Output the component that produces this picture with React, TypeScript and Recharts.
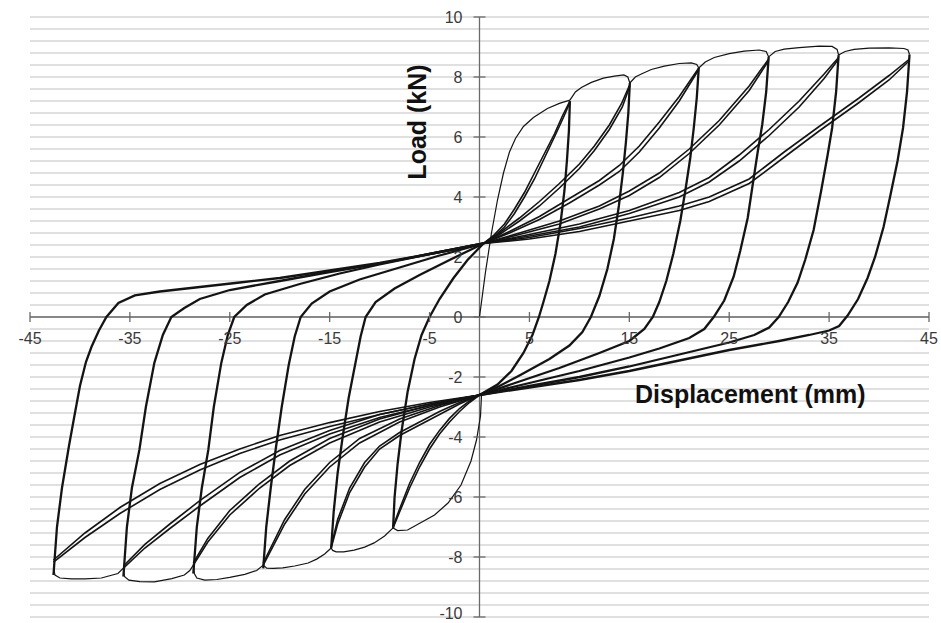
import React from 'react';
import { LineChart, Line, XAxis, YAxis, CartesianGrid, ReferenceLine, ReferenceDot } from 'recharts';

type P = [number, number];

const xTicks = [-45, -35, -25, -15, -5, 5, 15, 25, 35, 45];
const yTicks = [-10, -8, -6, -4, -2, 0, 2, 4, 6, 8, 10];
const gridValues: number[] = Array.from({ length: 51 }, (_, i) => Math.round((-10 + i * 0.4) * 10) / 10);

// Initial (virgin) curves and first-cycle envelope caps
const virginPos: P[] = [[0, 0], [0.6, 1.5], [1.2, 2.8], [1.8, 3.9], [2.4, 4.8], [3.0, 5.5], [3.6, 5.95], [4.4, 6.35], [5.4, 6.65], [6.8, 6.95], [8.0, 7.12], [9.05, 7.23]];
const capPos2: P[] = [[9.05, 7.23], [9.6, 7.5], [10.2, 7.65], [11.2, 7.82], [12.4, 7.96], [13.5, 8.03], [14.45, 8.07], [14.85, 8.0], [15.05, 7.8]];
const capPos3: P[] = [[15.05, 7.8], [15.6, 8.0], [16.2, 8.1], [17.2, 8.25], [18.5, 8.36], [20, 8.45], [21.2, 8.47], [21.75, 8.42], [21.95, 8.3]];
const capPos4: P[] = [[21.95, 8.3], [22.6, 8.5], [23.5, 8.65], [25, 8.78], [26.5, 8.86], [28, 8.9], [28.7, 8.85], [28.95, 8.67]];
const capPos5: P[] = [[28.95, 8.67], [29.6, 8.85], [30.5, 8.93], [32, 8.98], [34, 9.03], [35.3, 9.02], [35.8, 8.92], [35.95, 8.73]];
const capPos6: P[] = [[35.95, 8.73], [36.6, 8.85], [37.5, 8.92], [39, 8.96], [41, 8.97], [42.5, 8.95], [42.9, 8.9], [43.05, 8.75]];

const virginNeg: P[] = [[0.2, -2.6], [0.1, -3.3], [-0.3, -4.1], [-0.85, -4.8], [-1.85, -5.6], [-3.15, -6.2], [-4.5, -6.6], [-5.85, -6.85], [-7.2, -7.1], [-8.2, -7.12], [-8.65, -7.03]];
const capNeg2: P[] = [[-8.65, -7.03], [-9.5, -7.3], [-10.55, -7.53], [-11.5, -7.67], [-12.55, -7.77], [-13.6, -7.83], [-14.35, -7.83], [-14.7, -7.78], [-14.85, -7.7]];
const capNeg3: P[] = [[-14.85, -7.7], [-15.5, -7.9], [-16.3, -8.07], [-17.15, -8.2], [-18.5, -8.3], [-19.7, -8.36], [-20.65, -8.38], [-21.3, -8.37], [-21.65, -8.27]];
const capNeg4: P[] = [[-21.65, -8.27], [-22.3, -8.45], [-23.5, -8.58], [-25, -8.68], [-26.3, -8.75], [-27.5, -8.77], [-28.3, -8.7], [-28.55, -8.55], [-28.65, -8.27]];
const capNeg5: P[] = [[-28.65, -8.27], [-29, -8.45], [-29.55, -8.6], [-30.8, -8.72], [-32.55, -8.83], [-34, -8.82], [-35.1, -8.77], [-35.55, -8.65], [-35.65, -8.4]];
const capNeg6: P[] = [[-35.65, -8.37], [-36.2, -8.55], [-37.85, -8.7], [-39.5, -8.73], [-40.85, -8.73], [-42.0, -8.7], [-42.5, -8.6], [-42.65, -8.35]];

// Positive reloading branches (two repeated cycles per amplitude)
const posLoad1A: P[] = [[0.4, 2.45], [1.5, 2.75], [2.5, 3.1], [3.5, 3.6], [4.5, 4.15], [5.5, 4.8], [6.5, 5.45], [7.5, 6.1], [8.3, 6.7], [9.05, 7.2]];
const posLoad1B: P[] = [[0.4, 2.45], [1.5, 2.7], [2.5, 3.0], [3.5, 3.45], [4.5, 4.0], [5.5, 4.6], [6.5, 5.3], [7.5, 6.0], [8.4, 6.65], [9.05, 7.15]];
const posLoad2A: P[] = [[0.4, 2.45], [2, 2.8], [4, 3.3], [6, 3.85], [8, 4.45], [10, 5.1], [11.5, 5.7], [13, 6.4], [14.2, 7.1], [15.05, 7.75]];
const posLoad2B: P[] = [[0.4, 2.45], [2, 2.75], [4, 3.2], [6, 3.7], [8, 4.3], [10, 4.95], [11.5, 5.55], [13, 6.25], [14.3, 7.0], [15.05, 7.7]];
const posLoad3A: P[] = [[0.4, 2.45], [3, 2.85], [6, 3.35], [9, 3.95], [12, 4.55], [14, 5.05], [16, 5.7], [18, 6.5], [20, 7.35], [21.95, 8.3]];
const posLoad3B: P[] = [[0.4, 2.45], [3, 2.8], [6, 3.25], [9, 3.8], [12, 4.4], [14, 4.85], [16, 5.5], [18, 6.3], [20, 7.2], [21.95, 8.25]];
const posLoad4A: P[] = [[0.4, 2.45], [4, 2.8], [8, 3.2], [12, 3.7], [15, 4.2], [18, 4.8], [21, 5.6], [24, 6.55], [27, 7.7], [28.95, 8.6]];
const posLoad4B: P[] = [[0.4, 2.45], [4, 2.75], [8, 3.1], [12, 3.6], [15, 4.05], [18, 4.65], [21, 5.45], [24, 6.4], [27, 7.55], [28.95, 8.55]];
const posLoad5A: P[] = [[0.4, 2.45], [5, 2.75], [10, 3.1], [15, 3.55], [20, 4.15], [23, 4.65], [26, 5.4], [29, 6.25], [32, 7.2], [34.5, 8.1], [35.95, 8.65]];
const posLoad5B: P[] = [[0.4, 2.45], [5, 2.7], [10, 3.0], [15, 3.45], [20, 4.0], [23, 4.5], [26, 5.2], [29, 6.05], [32, 7.0], [34.5, 7.95], [35.95, 8.6]];
const posLoad6A: P[] = [[0.4, 2.45], [5, 2.65], [10, 2.95], [15, 3.3], [20, 3.7], [23, 4.0], [27, 4.6], [30.5, 5.5], [34, 6.35], [38, 7.3], [41, 8.05], [43.05, 8.6]];
const posLoad6B: P[] = [[0.4, 2.45], [5, 2.6], [10, 2.85], [15, 3.2], [20, 3.55], [23, 3.85], [27, 4.45], [31, 5.45], [34, 6.2], [38, 7.15], [41, 7.9], [43.05, 8.55]];

// Unloading from positive peaks down to the lower pinch
const posUnload1: P[] = [[9.05, 7.2], [8.95, 6.2], [8.75, 5.2], [8.5, 4.2], [8.1, 3.1], [7.6, 2.1], [7.0, 1.2], [6.4, 0.5], [5.95, 0.0], [5.3, -0.6], [4.4, -1.2], [3.2, -1.8], [1.8, -2.25], [0, -2.6]];
const posUnload2: P[] = [[15.05, 7.8], [14.9, 6.8], [14.65, 5.8], [14.35, 4.8], [13.95, 3.7], [13.45, 2.6], [12.8, 1.6], [12.0, 0.7], [11.15, 0.0], [10.3, -0.5], [9, -0.95], [7, -1.4], [4, -1.95], [2, -2.3], [0, -2.6]];
const posUnload3: P[] = [[21.95, 8.3], [21.75, 7.3], [21.45, 6.3], [21.1, 5.3], [20.6, 4.2], [20.1, 3.2], [19.4, 2.1], [18.7, 1.2], [18.0, 0.5], [17.35, 0.0], [16.5, -0.4], [15, -0.8], [12, -1.2], [8, -1.7], [4, -2.15], [0, -2.6]];
const posUnload4: P[] = [[28.95, 8.67], [28.7, 7.5], [28.3, 6.4], [27.85, 5.5], [27.3, 4.3], [26.85, 3.3], [26.1, 2.2], [25.45, 1.35], [24.5, 0.55], [23.45, 0.0], [22.5, -0.4], [21, -0.7], [18, -1.05], [15, -1.35], [10, -1.8], [5, -2.2], [0, -2.6]];
const posUnload5: P[] = [[35.95, 8.73], [35.7, 7.5], [35.3, 6.3], [34.85, 5.4], [34.2, 4.2], [33.45, 2.9], [32.6, 1.9], [31.85, 1.15], [30.9, 0.5], [29.95, 0.0], [29, -0.35], [27.5, -0.6], [25, -0.85], [20, -1.25], [15, -1.65], [10, -2.0], [5, -2.3], [0, -2.6]];
const posUnload6: P[] = [[43.05, 8.75], [42.8, 7.5], [42.4, 6.3], [41.85, 5.2], [41.1, 4.0], [40.45, 3.0], [39.6, 2.0], [38.85, 1.3], [37.9, 0.6], [36.85, 0.05], [36.0, -0.3], [35, -0.45], [33, -0.6], [30, -0.8], [25, -1.1], [20, -1.45], [15, -1.8], [10, -2.1], [5, -2.35], [0, -2.6]];

// Negative reloading branches
const negLoad1A: P[] = [[0, -2.6], [-1, -2.85], [-2, -3.15], [-3, -3.5], [-4, -3.9], [-5, -4.4], [-6, -5.0], [-7, -5.7], [-8, -6.5], [-8.65, -7.03]];
const negLoad1B: P[] = [[0, -2.6], [-1, -2.8], [-2, -3.05], [-3, -3.38], [-4, -3.78], [-5, -4.25], [-6, -4.85], [-7, -5.55], [-8, -6.4], [-8.65, -6.98]];
const negLoad2A: P[] = [[0, -2.6], [-2, -2.9], [-4, -3.25], [-6, -3.6], [-8, -3.95], [-10, -4.4], [-11.5, -5.0], [-13, -5.85], [-14.2, -6.9], [-14.85, -7.7]];
const negLoad2B: P[] = [[0, -2.6], [-2, -2.85], [-4, -3.15], [-6, -3.5], [-8, -3.85], [-10, -4.3], [-11.5, -4.85], [-13, -5.7], [-14.2, -6.75], [-14.85, -7.65]];
const negLoad3A: P[] = [[0, -2.6], [-4, -3.0], [-8, -3.5], [-12, -4.2], [-15, -5.0], [-17.5, -5.9], [-19.5, -6.9], [-21.65, -8.27]];
const negLoad3B: P[] = [[0, -2.6], [-4, -2.95], [-8, -3.4], [-12, -4.05], [-15, -4.85], [-17.5, -5.75], [-19.5, -6.75], [-21.65, -8.2]];
const negLoad4A: P[] = [[0, -2.6], [-5, -3.0], [-10, -3.5], [-15, -4.2], [-19, -4.95], [-22, -5.7], [-25, -6.6], [-27.2, -7.5], [-28.65, -8.27]];
const negLoad4B: P[] = [[0, -2.6], [-5, -2.95], [-10, -3.4], [-15, -4.05], [-19, -4.8], [-22, -5.55], [-25, -6.45], [-27.2, -7.38], [-28.65, -8.2]];
const negLoad5A: P[] = [[0, -2.6], [-5, -2.95], [-10, -3.35], [-15, -3.9], [-20, -4.6], [-24, -5.35], [-28, -6.3], [-31, -7.05], [-33.5, -7.7], [-35.65, -8.37]];
const negLoad5B: P[] = [[0, -2.6], [-5, -2.9], [-10, -3.25], [-15, -3.78], [-20, -4.45], [-24, -5.18], [-28, -6.12], [-31, -6.9], [-33.5, -7.58], [-35.65, -8.3]];
const negLoad6A: P[] = [[0, -2.6], [-5, -2.9], [-10, -3.25], [-15, -3.65], [-20, -4.1], [-24, -4.55], [-28, -5.1], [-32, -5.75], [-36, -6.55], [-39.5, -7.35], [-42.65, -8.17]];
const negLoad6B: P[] = [[0, -2.6], [-5, -2.85], [-10, -3.15], [-15, -3.52], [-20, -3.95], [-24, -4.4], [-28, -4.92], [-32, -5.55], [-36, -6.35], [-39.5, -7.2], [-42.65, -8.1]];

// Unloading from negative peaks up to the upper pinch
const negUnload1: P[] = [[-8.65, -7.03], [-8.5, -6.0], [-8.2, -4.9], [-7.8, -3.8], [-7.2, -2.5], [-6.5, -1.4], [-5.8, -0.6], [-5.0, 0], [-4.0, 0.6], [-2.6, 1.3], [-1.2, 1.9], [0.4, 2.45]];
const negUnload2: P[] = [[-14.85, -7.7], [-14.6, -6.5], [-14.2, -5.2], [-13.7, -4.0], [-13.1, -2.7], [-12.4, -1.5], [-11.9, -0.65], [-11.4, 0], [-10.4, 0.5], [-8.5, 0.95], [-6, 1.4], [-3, 1.9], [0.4, 2.45]];
const negUnload3: P[] = [[-21.65, -8.38], [-21.35, -7.0], [-20.9, -5.7], [-20.4, -4.4], [-19.8, -3.0], [-19.1, -1.6], [-18.5, -0.65], [-17.9, 0], [-16.8, 0.45], [-15, 0.85], [-12, 1.25], [-8, 1.65], [-4, 2.05], [0.4, 2.45]];
const negUnload4: P[] = [[-28.65, -8.55], [-28.3, -7.0], [-27.8, -5.7], [-27.15, -4.43], [-26.6, -3.0], [-25.85, -1.53], [-25.2, -0.6], [-24.55, 0], [-23.3, 0.4], [-21.5, 0.75], [-18, 1.1], [-14, 1.45], [-10, 1.75], [-5, 2.1], [0.4, 2.45]];
const negUnload5: P[] = [[-35.65, -8.65], [-35.3, -7.0], [-34.8, -5.7], [-34.05, -4.43], [-33.4, -3.0], [-32.55, -1.53], [-31.7, -0.6], [-30.85, 0], [-29.55, 0.3], [-28, 0.6], [-25, 0.9], [-20, 1.2], [-15, 1.5], [-10, 1.78], [-5, 2.1], [0.4, 2.45]];
const negUnload6: P[] = [[-42.65, -8.6], [-42.3, -7.0], [-41.8, -5.7], [-41.1, -4.3], [-40.5, -3.2], [-40.0, -2.3], [-39.4, -1.5], [-38.85, -1.0], [-38.1, -0.45], [-37.35, 0], [-36.15, 0.47], [-34.5, 0.72], [-32, 0.85], [-28, 1.0], [-24, 1.15], [-20, 1.3], [-15, 1.55], [-10, 1.8], [-5, 2.1], [0.4, 2.45]];

const thin: P[][] = [virginPos, capPos2, capPos3, capPos4, capPos5, capPos6, virginNeg, capNeg2, capNeg3, capNeg4, capNeg5, capNeg6];
const loading: P[][] = [
  posLoad1A, posLoad1B, posLoad2A, posLoad2B, posLoad3A, posLoad3B, posLoad4A, posLoad4B, posLoad5A, posLoad5B, posLoad6A, posLoad6B,
  negLoad1A, negLoad1B, negLoad2A, negLoad2B, negLoad3A, negLoad3B, negLoad4A, negLoad4B, negLoad5A, negLoad5B, negLoad6A, negLoad6B,
];
const unloading: P[][] = [posUnload1, posUnload2, posUnload3, posUnload4, posUnload5, posUnload6, negUnload1, negUnload2, negUnload3, negUnload4, negUnload5, negUnload6];

const toXY = (pts: P[]) => pts.map(([x, y]) => ({ x, y }));

const series = [
  ...thin.map((d) => ({ data: toXY(d), w: 1.2 })),
  ...loading.map((d) => ({ data: toXY(d), w: 1.6 })),
  ...unloading.map((d) => ({ data: toXY(d), w: 2.3 })),
];

const FONT = '"Liberation Sans", Arial, Helvetica, sans-serif';
const AXIS_COLOR = '#6a6a6a';
const LABEL_COLOR = '#3a3a3a';

const XTick = (props: any) => {
  const { cx, cy, v } = props;
  return (
    <g>
      <line x1={cx} x2={cx} y1={cy - 5} y2={cy + 5} stroke={AXIS_COLOR} strokeWidth={1.3} />
      <text x={cx} y={cy + 21} textAnchor="middle" dominantBaseline="central" fontFamily={FONT} fontSize={16} fill={LABEL_COLOR}>
        {String(v)}
      </text>
    </g>
  );
};

const YTick = (props: any) => {
  const { cx, cy, v } = props;
  const dy = v === -10 ? -4 : 0;
  return (
    <g>
      <line x1={cx - 6} x2={cx + 6} y1={cy} y2={cy} stroke={AXIS_COLOR} strokeWidth={1.3} />
      <text x={cx - 17} y={cy + dy} textAnchor="end" dominantBaseline="central" fontFamily={FONT} fontSize={16} fill={LABEL_COLOR}>
        {String(v)}
      </text>
    </g>
  );
};

export default function App() {
  return (
    <div style={{ position: 'absolute', left: 0, top: 0, width: 941, height: 623, background: '#fff', fontFamily: FONT }}>
      <LineChart width={941} height={623} margin={{ top: 17, right: 12, bottom: 6, left: 30 }}>
        <XAxis type="number" dataKey="x" domain={[-45, 45]} hide allowDataOverflow />
        <YAxis type="number" dataKey="y" domain={[-10, 10]} ticks={gridValues} interval={0} hide allowDataOverflow />
        <CartesianGrid vertical={false} horizontalValues={gridValues} stroke="#d6d6d6" strokeWidth={1.6} />
        <ReferenceLine y={0} stroke={AXIS_COLOR} strokeWidth={1.3} />
        <ReferenceLine x={0} stroke={AXIS_COLOR} strokeWidth={1.3} />
        {xTicks.map((v) => (
          <ReferenceDot key={'xt' + v} x={v} y={0} r={0} shape={(p: any) => <XTick {...p} v={v} />} />
        ))}
        {yTicks.map((v) => (
          <ReferenceDot key={'yt' + v} x={0} y={v} r={0} shape={(p: any) => <YTick {...p} v={v} />} />
        ))}
        {series.map((s, i) => (
          <Line
            key={'s' + i}
            data={s.data}
            dataKey="y"
            type="linear"
            stroke="#141414"
            strokeWidth={s.w}
            dot={false}
            activeDot={false}
            isAnimationActive={false}
          />
        ))}
      </LineChart>
      <div
        style={{
          position: 'absolute',
          left: 417,
          top: 122,
          transform: 'translate(-50%, -50%) rotate(-90deg)',
          whiteSpace: 'nowrap',
          fontWeight: 'bold',
          fontSize: 25,
          lineHeight: '25px',
          color: '#111',
        }}
      >
        Load (kN)
      </div>
      <div
        style={{
          position: 'absolute',
          left: 635,
          top: 382,
          whiteSpace: 'nowrap',
          fontWeight: 'bold',
          fontSize: 25,
          lineHeight: '25px',
          color: '#111',
        }}
      >
        Displacement (mm)
      </div>
    </div>
  );
}
